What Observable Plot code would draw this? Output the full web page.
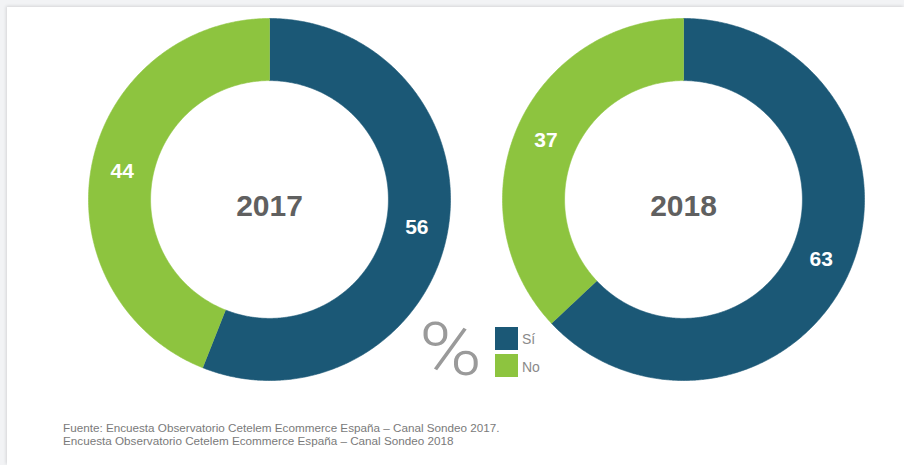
<!DOCTYPE html>
<html><head><meta charset="utf-8">
<script src="https://cdn.jsdelivr.net/npm/d3@7"></script>
<script src="https://cdn.jsdelivr.net/npm/@observablehq/plot@0.6"></script>
<style>
html,body{margin:0;padding:0;width:904px;height:465px;overflow:hidden;background:#f2f3f5;font-family:"Liberation Sans",Arial,sans-serif}
#card{position:absolute;left:7px;top:7px;right:0;bottom:0;background:#fff;box-shadow:-1px -1px 3px rgba(0,0,0,0.12)}
#chart{position:absolute;left:0;top:0}
#pct{position:absolute;left:419px;top:300px;font-family:Roboto,"Open Sans",sans-serif;font-weight:300;font-size:74px;line-height:100px;color:#9a9a9a;transform:scaleX(1.15);transform-origin:left center}
.sw{position:absolute;left:495px;width:23px;height:23px}
.lt{position:absolute;left:522px;font-size:14px;line-height:16px;color:#8a8a8a}
#caption{position:absolute;left:63px;top:421px;font-size:11.7px;line-height:13px;color:#7a7a7a}
</style></head><body>
<div id="card"></div>
<div id="chart"></div>
<div id="pct">%</div>
<div id="legend"></div>
<div id="caption"></div>
<script>
const years = [2017, 2018];
const answers = ["Sí", "No"];
const siValues = [56, 63];
const noValues = [44, 37];
const colors = ["#1b5876", "#8dc43f"];
const captionLines = [
  "Fuente: Encuesta Observatorio Cetelem Ecommerce España – Canal Sondeo 2017.",
  "Encuesta Observatorio Cetelem Ecommerce España – Canal Sondeo 2018"
];
const rOuter = 1, rInner = 0.657;

const points = [];
const labels = [];
years.forEach((year, i) => {
  const vals = [siValues[i], noValues[i]];
  const arcs = d3.pie().sort(null).startAngle(0).endAngle(2 * Math.PI)(vals);
  arcs.forEach((a, j) => {
    const key = year + "-" + answers[j];
    const n = Math.max(2, Math.ceil((a.endAngle - a.startAngle) * 180 / Math.PI * 2));
    const outer = [], inner = [];
    for (let k = 0; k <= n; k++) {
      const t = a.startAngle + (a.endAngle - a.startAngle) * k / n;
      outer.push({x: Math.sin(t) * rOuter, y: Math.cos(t) * rOuter});
      inner.push({x: Math.sin(t) * rInner, y: Math.cos(t) * rInner});
    }
    inner.reverse();
    [...outer, ...inner].forEach(p => points.push({...p, year, answer: answers[j], key}));
    const m = (a.startAngle + a.endAngle) / 2, rm = (rOuter + rInner) / 2;
    labels.push({year, answer: answers[j], value: vals[j], x: Math.sin(m) * rm, y: Math.cos(m) * rm});
  });
});

const chart = Plot.plot({
  width: 904, height: 400,
  marginLeft: 88, marginRight: 40, marginTop: 18, marginBottom: 20,
  fx: {domain: years, paddingInner: 52 / 414, paddingOuter: 0, axis: null},
  x: {domain: [-1, 1], axis: null},
  y: {domain: [-1, 1], axis: null},
  color: {domain: answers, range: colors},
  style: {background: "transparent", overflow: "visible", fontFamily: "'Liberation Sans', Arial, sans-serif"},
  marks: [
    Plot.line(points, {x: "x", y: "y", z: "key", fx: "year", fill: "answer", stroke: "answer", strokeWidth: 0.6, curve: "linear"}),
    Plot.text(labels, {x: "x", y: "y", fx: "year", text: d => String(d.value), fill: "white", fontSize: 21, fontWeight: "bold"}),
    Plot.text(years, {fx: d => d, text: d => String(d), frameAnchor: "middle", dy: 7, fontSize: 30, fontWeight: "bold", fill: "#606060"})
  ]
});
document.getElementById("chart").appendChild(chart);

const legend = document.getElementById("legend");
answers.forEach((a, i) => {
  const sw = document.createElement("div");
  sw.className = "sw";
  sw.style.top = (327 + i * 27) + "px";
  sw.style.background = colors[i];
  legend.appendChild(sw);
  const lt = document.createElement("div");
  lt.className = "lt";
  lt.style.top = (331 + i * 28) + "px";
  lt.textContent = a;
  legend.appendChild(lt);
});
document.getElementById("caption").innerHTML = captionLines.map(s => "<div>" + s + "</div>").join("");
</script>
</body></html>
